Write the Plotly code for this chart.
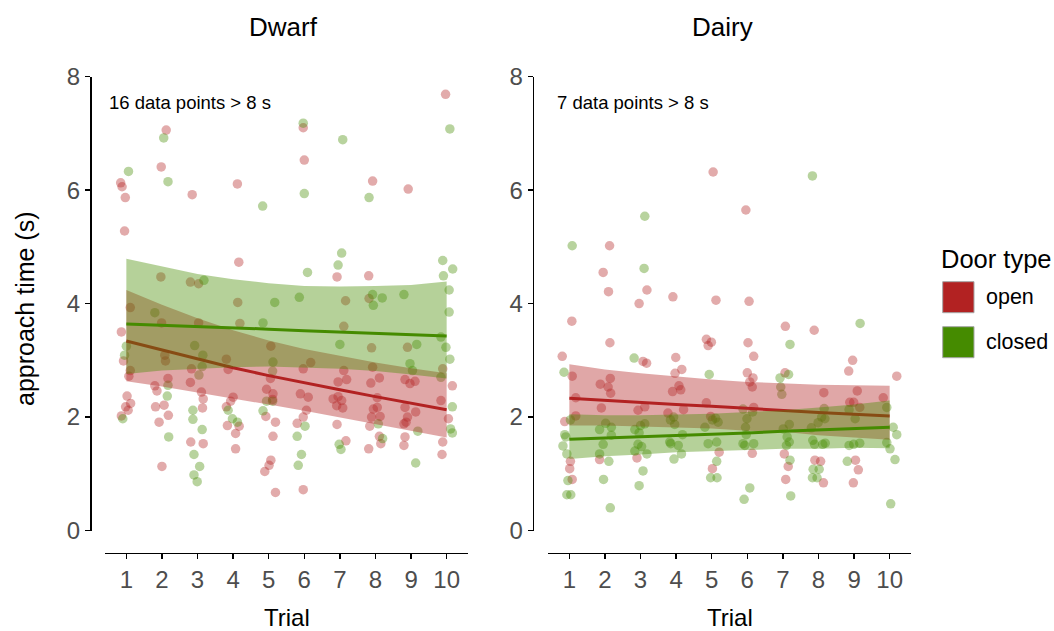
import plotly.graph_objects as go

W, H = 1054, 631
OFF = 0  # body margin removed via post_script

trials = [1, 2, 3, 4, 5, 6, 7, 8, 9, 10]
y_ticks = [0, 2, 4, 6, 8]

# ---------------- Dwarf : raw points (jittered trial, approach time) ----------------
dwarf_open_x = [2.12, 1.98, 0.84, 0.88, 0.97, 2.85, 4.12, 0.95, 4.16, 1.97, 2.80, 3.03, 9.97, 5.97, 6.00,
                7.92, 8.92, 6.92, 7.81, 7.16, 7.82, 1.11, 4.13, 4.19, 3.03, 1.99, 0.86, 0.92, 2.08, 2.10,
                3.81, 5.06, 2.83, 1.11, 1.07, 3.86, 5.05, 2.17, 2.80, 1.80, 1.86, 3.11, 3.16, 4.94, 5.12,
                5.11, 4.00, 3.93, 1.02, 1.12, 0.98, 1.05, 0.86, 1.82, 2.06, 2.18, 1.92, 2.00, 3.14, 2.81,
                3.16, 3.81, 3.84, 4.17, 4.07, 4.07, 4.92, 5.19, 5.12, 5.06, 5.01, 4.89, 5.19, 7.11, 7.89,
                8.90, 6.18, 5.97, 7.11, 7.19, 7.92, 9.89, 8.11, 6.95, 7.87, 8.83, 8.97, 9.11, 5.89, 6.11,
                6.81, 6.95, 7.05, 6.91, 7.08, 8.05, 9.84, 10.16, 7.94, 8.05, 8.13, 7.89, 8.83, 8.90, 9.13,
                8.86, 8.80, 6.06, 5.97, 5.80, 6.92, 7.84, 10.05, 8.11, 8.15, 8.83, 8.80, 9.89, 9.87, 7.17,
                7.81, 5.97]
dwarf_open_y = [7.06, 6.41, 6.13, 6.06, 5.87, 5.92, 6.11, 5.28, 4.73, 4.47, 4.38, 4.35, 7.69, 7.10, 6.53,
                6.16, 6.02, 4.47, 4.49, 4.05, 4.09, 3.93, 4.02, 3.65, 3.66, 3.66, 3.50, 2.99, 3.09, 2.99,
                3.02, 3.25, 2.85, 2.82, 2.72, 2.84, 2.68, 2.68, 2.61, 2.55, 2.46, 2.44, 2.32, 2.49, 2.41,
                2.31, 2.35, 2.28, 2.37, 2.24, 2.18, 2.12, 2.02, 2.18, 2.21, 2.03, 1.91, 1.13, 2.16, 1.56,
                1.53, 2.18, 1.85, 1.84, 1.71, 1.44, 2.01, 1.91, 1.66, 1.24, 1.15, 1.04, 0.67, 3.60, 3.22,
                3.23, 2.96, 2.85, 2.82, 2.66, 2.88, 2.85, 2.69, 2.62, 2.60, 2.66, 2.59, 2.63, 2.41, 2.35,
                2.32, 2.36, 2.29, 2.20, 2.16, 2.34, 2.29, 2.55, 2.14, 2.17, 2.01, 2.00, 2.17, 2.00, 2.09,
                1.91, 1.88, 2.12, 2.00, 1.89, 1.87, 1.84, 1.97, 1.66, 1.53, 1.65, 1.50, 1.56, 1.34, 1.58,
                1.44, 0.72]

dwarf_closed_x = [2.05, 1.06, 2.17, 4.83, 3.18, 5.97, 10.09, 7.08, 6.00, 7.82, 7.05, 6.95, 6.09, 9.89, 10.17,
                  9.91, 10.07, 5.86, 7.92, 8.19, 8.80, 7.94, 1.80, 5.17, 4.84, 1.00, 0.95, 2.17, 4.94, 5.11,
                  2.15, 0.90, 2.19, 2.87, 2.87, 3.13, 2.90, 3.06, 2.90, 2.99, 3.86, 3.98, 4.12, 4.84, 10.07,
                  7.00, 9.16, 9.84, 9.98, 10.09, 9.04, 10.16, 8.08, 6.02, 10.11, 10.16, 9.19, 5.80, 8.20, 6.98,
                  7.03, 5.92, 5.83, 9.13, 2.92, 3.15, 5.12, 3.13, 3.04, 5.11, 8.97, 9.84]
dwarf_closed_y = [6.92, 6.33, 6.15, 5.72, 4.41, 7.18, 7.08, 6.89, 5.94, 5.87, 4.89, 4.68, 4.55, 4.76, 4.61,
                  4.49, 4.24, 4.11, 4.16, 4.10, 4.16, 3.97, 3.84, 4.02, 3.66, 3.25, 3.09, 2.56, 2.28, 2.28,
                  2.37, 1.97, 1.65, 2.12, 1.96, 1.78, 1.34, 1.13, 0.98, 0.86, 2.12, 1.97, 1.91, 2.11, 3.85,
                  3.28, 3.28, 3.41, 3.23, 3.02, 2.82, 2.18, 1.88, 1.84, 1.79, 1.72, 1.75, 1.66, 1.62, 1.52,
                  1.43, 1.34, 1.15, 1.19, 3.26, 3.09, 2.97, 2.89, 2.74, 2.81, 2.94, 2.70]

# ---------------- Dairy : raw points ----------------
dairy_open_x = [5.04, 2.13, 1.95, 2.10, 3.18, 3.91, 5.12, 2.96, 5.96, 6.05, 1.07, 2.14, 4.85, 4.99, 4.90,
                0.80, 3.07, 3.17, 3.99, 4.16, 3.97, 1.08, 2.15, 1.87, 2.09, 2.16, 4.08, 3.90, 4.13, 1.18,
                1.90, 3.12, 4.21, 4.85, 1.18, 0.87, 2.93, 3.77, 4.97, 1.85, 2.90, 5.21, 1.03, 1.01, 1.08,
                5.02, 7.07, 7.88, 6.02, 6.18, 8.96, 8.85, 6.00, 6.16, 6.07, 6.14, 7.06, 10.20, 8.15, 9.09,
                9.82, 8.88, 8.99, 6.14, 7.04, 7.15, 7.08, 7.90, 8.06, 8.14, 9.04, 9.12, 8.98, 6.18, 9.16]
dairy_open_y = [6.32, 5.02, 4.55, 4.21, 4.24, 4.12, 4.06, 4.00, 5.65, 4.04, 3.69, 3.31, 3.37, 3.32, 3.26,
                3.07, 2.98, 2.95, 3.05, 2.84, 2.77, 2.72, 2.68, 2.58, 2.53, 2.42, 2.55, 2.45, 2.48, 2.34,
                2.16, 2.18, 2.13, 2.25, 2.02, 1.92, 2.12, 2.07, 2.01, 1.25, 1.28, 1.38, 1.22, 1.09, 0.90,
                1.09, 3.60, 3.53, 3.31, 3.07, 3.00, 2.81, 2.78, 2.69, 2.62, 2.53, 2.78, 2.72, 2.43, 2.46,
                2.34, 2.26, 2.26, 1.36, 1.35, 1.13, 0.90, 1.24, 1.22, 0.84, 1.24, 1.07, 0.84, 2.17, 2.17]

dairy_closed_x = [3.12, 1.08, 3.10, 7.83, 9.17, 7.20, 2.82, 0.85, 4.93, 6.92, 7.16, 0.96, 0.93, 1.04, 1.96,
                  3.07, 2.96, 2.15, 5.14, 4.97, 5.15, 7.20, 7.85, 8.02, 7.83, 7.96, 8.81, 6.07, 5.91, 7.22,
                  10.03, 10.15, 2.11, 2.02, 2.18, 1.85, 3.00, 3.12, 3.96, 3.84, 4.81, 5.18, 5.02, 0.87, 0.90,
                  2.18, 2.96, 2.84, 4.18, 3.82, 4.06, 3.85, 4.90, 5.14, 0.82, 0.93, 1.95, 1.85, 2.93, 2.84,
                  3.03, 4.15, 3.94, 3.18, 6.94, 6.97, 9.92, 8.16, 8.09, 8.18, 7.99, 7.80, 5.88, 5.99, 5.95,
                  5.97, 6.15, 7.18, 7.01, 7.12, 7.18, 7.10, 7.84, 7.89, 8.12, 8.19, 8.86, 8.99, 9.16, 10.20,
                  10.10, 9.92, 10.01, 5.88, 6.18, 5.93, 8.86, 9.03, 1.03, 5.11, 3.93]
dairy_closed_y = [5.54, 5.02, 4.62, 6.25, 3.65, 3.28, 3.04, 2.79, 2.75, 2.69, 2.75, 0.88, 0.63, 0.63, 0.90,
                  1.05, 0.79, 0.40, 1.22, 0.93, 0.93, 1.24, 1.08, 1.08, 0.93, 0.93, 1.22, 0.75, 0.55, 0.61,
                  0.47, 1.25, 1.22, 1.89, 1.82, 1.78, 1.85, 1.88, 1.87, 1.95, 1.82, 1.91, 1.95, 1.69, 1.65,
                  1.68, 1.72, 1.78, 1.69, 1.56, 1.50, 1.53, 1.53, 1.56, 1.49, 1.35, 1.52, 1.35, 1.52, 1.40,
                  1.48, 1.35, 1.26, 1.35, 2.53, 2.40, 2.17, 2.15, 2.00, 1.97, 1.90, 1.81, 2.14, 1.97, 1.82,
                  1.69, 2.09, 1.87, 1.79, 1.65, 1.56, 1.50, 1.59, 1.52, 1.52, 1.54, 1.50, 1.52, 1.54, 1.69,
                  1.82, 1.55, 1.44, 1.53, 1.53, 1.50, 2.13, 1.97, 1.95, 1.98, 2.00]

# ---------------- model fits (per trial) with confidence bands ----------------
dwarf_open_fit = [3.34, 3.18, 3.02, 2.87, 2.73, 2.60, 2.48, 2.36, 2.24, 2.13]
dwarf_open_lo = [2.63, 2.54, 2.44, 2.33, 2.22, 2.11, 2.00, 1.88, 1.76, 1.64]
dwarf_open_hi = [4.24, 3.98, 3.74, 3.53, 3.35, 3.20, 3.08, 2.96, 2.86, 2.77]
dwarf_closed_fit = [3.64, 3.62, 3.59, 3.57, 3.55, 3.52, 3.50, 3.48, 3.45, 3.43]
dwarf_closed_lo = [2.76, 2.82, 2.85, 2.88, 2.89, 2.87, 2.85, 2.81, 2.75, 2.68]
dwarf_closed_hi = [4.79, 4.65, 4.52, 4.43, 4.36, 4.31, 4.30, 4.31, 4.33, 4.39]

dairy_open_fit = [2.33, 2.29, 2.26, 2.22, 2.19, 2.15, 2.12, 2.08, 2.05, 2.02]
dairy_open_lo = [1.85, 1.85, 1.84, 1.82, 1.80, 1.76, 1.74, 1.68, 1.64, 1.60]
dairy_open_hi = [2.93, 2.84, 2.77, 2.71, 2.66, 2.62, 2.59, 2.57, 2.56, 2.55]
dairy_closed_fit = [1.61, 1.63, 1.65, 1.68, 1.70, 1.72, 1.75, 1.77, 1.80, 1.82]
dairy_closed_lo = [1.26, 1.31, 1.34, 1.38, 1.40, 1.42, 1.44, 1.44, 1.46, 1.45]
dairy_closed_hi = [2.05, 2.03, 2.03, 2.04, 2.06, 2.09, 2.12, 2.17, 2.22, 2.29]

panel_names = ["Dwarf", "Dairy"]
overflow_notes = ["16 data points > 8 s", "7 data points > 8 s"]
door_types = ["open", "closed"]

OPEN_COL = "#B22222"
CLOSED_COL = "#458B00"
OPEN_RGB = "178,34,34"
CLOSED_RGB = "69,139,0"


def PX(p):
    return (p - OFF) / W


def PY(p):
    return 1 - (p - OFF) / H


fig = go.Figure()

panels = [
    ("x", "y", dwarf_open_x, dwarf_open_y, dwarf_closed_x, dwarf_closed_y,
     dwarf_open_fit, dwarf_open_lo, dwarf_open_hi, dwarf_closed_fit, dwarf_closed_lo, dwarf_closed_hi),
    ("x2", "y2", dairy_open_x, dairy_open_y, dairy_closed_x, dairy_closed_y,
     dairy_open_fit, dairy_open_lo, dairy_open_hi, dairy_closed_fit, dairy_closed_lo, dairy_closed_hi),
]

for (xa, ya, ox, oy, cx, cy, of, olo, ohi, cf, clo, chi) in panels:
    # raw points
    fig.add_trace(go.Scatter(x=ox, y=oy, xaxis=xa, yaxis=ya, mode="markers",
                             marker=dict(size=9.5, color=f"rgba({OPEN_RGB},0.38)", line=dict(width=0)),
                             showlegend=False, hoverinfo="skip"))
    fig.add_trace(go.Scatter(x=cx, y=cy, xaxis=xa, yaxis=ya, mode="markers",
                             marker=dict(size=9.5, color=f"rgba({CLOSED_RGB},0.38)", line=dict(width=0)),
                             showlegend=False, hoverinfo="skip"))
    # open: band + line
    fig.add_trace(go.Scatter(x=trials + trials[::-1], y=ohi + olo[::-1], xaxis=xa, yaxis=ya,
                             fill="toself", fillcolor=f"rgba({OPEN_RGB},0.4)", mode="lines",
                             line=dict(width=0), showlegend=False, hoverinfo="skip"))
    fig.add_trace(go.Scatter(x=trials, y=of, xaxis=xa, yaxis=ya, mode="lines",
                             line=dict(color=OPEN_COL, width=3), showlegend=False, hoverinfo="skip"))
    # closed: band + line
    fig.add_trace(go.Scatter(x=trials + trials[::-1], y=chi + clo[::-1], xaxis=xa, yaxis=ya,
                             fill="toself", fillcolor=f"rgba({CLOSED_RGB},0.4)", mode="lines",
                             line=dict(width=0), showlegend=False, hoverinfo="skip"))
    fig.add_trace(go.Scatter(x=trials, y=cf, xaxis=xa, yaxis=ya, mode="lines",
                             line=dict(color=CLOSED_COL, width=3), showlegend=False, hoverinfo="skip"))

FONT = "Liberation Sans, Arial, sans-serif"
TICKGRAY = "#4D4D4D"
ydom = [PY(530.5), PY(76.7)]
xpos = PY(552.5)

axis_common = dict(showgrid=False, zeroline=False, showline=True, linecolor="black", linewidth=1.5,
                   ticks="outside", ticklen=5, tickwidth=1.5, tickcolor="black",
                   tickfont=dict(family=FONT, size=24, color=TICKGRAY), anchor="free",
                   automargin=False, fixedrange=True)

fig.update_layout(
    width=W, height=H,
    margin=dict(l=0, r=0, t=0, b=0),
    paper_bgcolor="white", plot_bgcolor="white",
    showlegend=False,
    xaxis=dict(domain=[PX(105), PX(468)], range=[0.4, 10.6], tickvals=trials, position=xpos, **axis_common),
    yaxis=dict(domain=ydom, range=[0, 8], tickvals=y_ticks, position=PX(90), **axis_common),
    xaxis2=dict(domain=[PX(548), PX(911)], range=[0.4, 10.6], tickvals=trials, position=xpos, **axis_common),
    yaxis2=dict(domain=ydom, range=[0, 8], tickvals=y_ticks, position=PX(532.7), **axis_common),
)


def ann(text, x, y, size, color="black", xanchor="center", yanchor="middle", angle=0):
    fig.add_annotation(text=text, x=PX(x), y=PY(y), xref="paper", yref="paper", showarrow=False,
                       xanchor=xanchor, yanchor=yanchor, textangle=angle,
                       font=dict(family=FONT, size=size, color=color))


# panel titles
ann(panel_names[0], 283, 27, 26)
ann(panel_names[1], 722, 27, 26)
# axis titles
ann("approach time (s)", 25, 309, 25, angle=-90)
ann("Trial", 286.5, 617, 24)
ann("Trial", 729.5, 617, 24)
# overflow notes
ann(overflow_notes[0], 107, 102, 18.5, xanchor="left")
ann(overflow_notes[1], 555, 102, 18.5, xanchor="left")

# legend (drawn manually)
ann("Door type", 939, 259, 25.5, xanchor="left")
for i, (lab, col) in enumerate(zip(door_types, [OPEN_COL, CLOSED_COL])):
    y0 = 281.7 + i * 45
    fig.add_shape(type="rect", xref="paper", yref="paper",
                  x0=PX(942.7), x1=PX(974), y0=PY(y0), y1=PY(y0 + 31),
                  fillcolor=col, line=dict(color="#A6A6A6", width=1))
    ann(lab, 984, y0 + 15.5, 21.5, xanchor="left")

fig.write_html("out.html",
               config={"displayModeBar": False, "staticPlot": True},
               post_script="document.body.style.margin='0';document.body.style.overflow='hidden';")
